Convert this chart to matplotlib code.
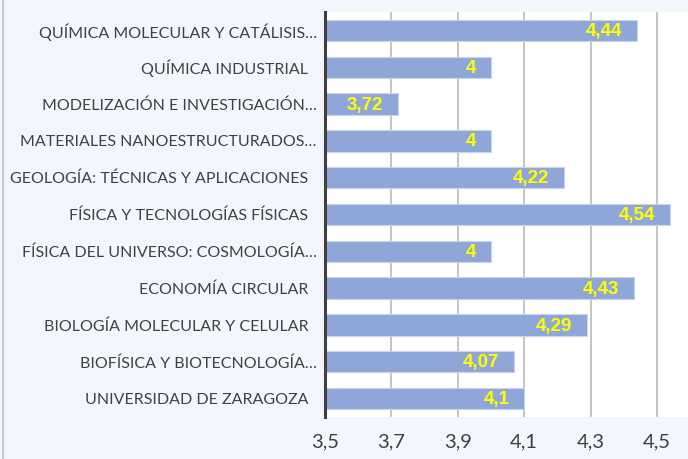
import matplotlib
matplotlib.use("Agg")
import matplotlib.pyplot as plt
from matplotlib.lines import Line2D

categories = [
    "QUÍMICA MOLECULAR Y CATÁLISIS…",
    "QUÍMICA INDUSTRIAL  ",
    "MODELIZACIÓN E INVESTIGACIÓN…",
    "MATERIALES NANOESTRUCTURADOS…",
    "GEOLOGÍA: TÉCNICAS Y APLICACIONES  ",
    "FÍSICA Y TECNOLOGÍAS FÍSICAS  ",
    "FÍSICA DEL UNIVERSO: COSMOLOGÍA…",
    "ECONOMÍA CIRCULAR  ",
    "BIOLOGÍA MOLECULAR Y CELULAR  ",
    "BIOFÍSICA Y BIOTECNOLOGÍA…",
    "UNIVERSIDAD DE ZARAGOZA  ",
]
values = [4.44, 4.0, 3.72, 4.0, 4.22, 4.54, 4.0, 4.43, 4.29, 4.07, 4.1]
value_labels = ["4,44", "4", "3,72", "4", "4,22", "4,54", "4", "4,43", "4,29", "4,07", "4,1"]
xticks = [3.5, 3.7, 3.9, 4.1, 4.3, 4.5]
xtick_labels = ["3,5", "3,7", "3,9", "4,1", "4,3", "4,5"]

plt.rcParams['font.family'] = ['Lato', 'DejaVu Sans']

fig = plt.figure(figsize=(6.88, 4.59), dpi=100, facecolor="#F3F7FD")
ax = fig.add_axes([325/688, 1-417/459, 1-325/688, (417-12)/459])
ax.set_facecolor("white")

n = len(categories)
ypos = list(range(n))[::-1]
base = 3.5
ax.barh(ypos, [v - base for v in values], left=base, height=0.58,
        color="#8EA7D8", edgecolor="#C9D5EC", linewidth=0.8, zorder=3)

for y, v, lab in zip(ypos, values, value_labels):
    ax.text(v - 0.045, y - 0.03, lab, ha="right", va="center", color="#FFFF00",
            fontsize=13.5, fontweight="bold", family=["Liberation Sans", "DejaVu Sans"], zorder=4)

ax.set_xlim(3.5, 3.5 + (688-325)/332)
ax.set_ylim(-0.5, n - 0.5)
ax.set_xticks(xticks)
ax.set_xticklabels(xtick_labels, fontsize=14.5, color="#404040")
ax.set_yticks(ypos)
ax.set_yticklabels(categories, fontsize=11.5, color="#404040")
ax.tick_params(axis="both", length=0)
ax.tick_params(axis="x", pad=12)
ax.tick_params(axis="y", pad=6)
ax.grid(axis="x", color="#BFBFBF", linewidth=1.3, zorder=0)
for s in ["top", "right", "bottom"]:
    ax.spines[s].set_visible(False)
ax.spines["left"].set_color("#404040")
ax.spines["left"].set_linewidth(2.2)
ax.spines["left"].set_zorder(5)

fig.add_artist(Line2D([2.5/688, 2.5/688], [0, 1], transform=fig.transFigure,
                      color="#BFBFBF", linewidth=1.2))

fig.savefig("out.png", dpi=100, facecolor=fig.get_facecolor())
